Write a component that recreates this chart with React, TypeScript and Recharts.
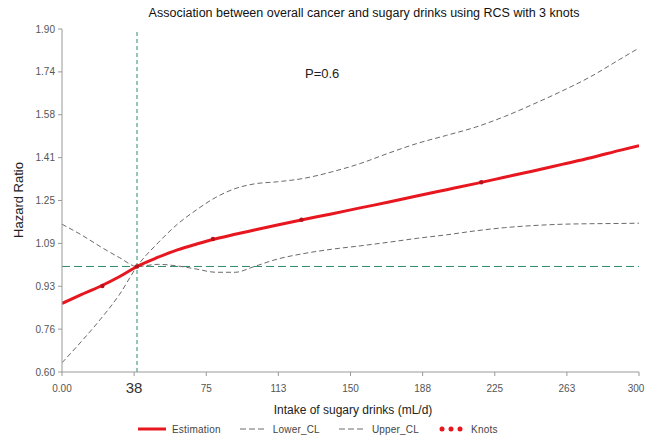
import React from 'react'
import { ComposedChart, Line, Scatter, XAxis, YAxis, ReferenceLine } from 'recharts'

const xValues = [0, 10, 20, 30, 39, 50, 60, 70, 80, 90, 100, 112, 125, 140, 155, 170, 185, 200, 215, 230, 245, 260, 275, 290, 300]
const estimation = [0.86, 0.893, 0.925, 0.962, 1.0, 1.035, 1.063, 1.085, 1.105, 1.122, 1.138, 1.157, 1.177, 1.199, 1.222, 1.244, 1.268, 1.291, 1.314, 1.338, 1.362, 1.387, 1.412, 1.44, 1.458]
const lowerCL = [1.16, 1.12, 1.075, 1.033, 1.0, 1.008, 1.002, 0.99, 0.978, 0.978, 1.0, 1.028, 1.048, 1.065, 1.078, 1.092, 1.107, 1.12, 1.135, 1.147, 1.155, 1.16, 1.162, 1.163, 1.164]
const upperCL = [0.635, 0.715, 0.8, 0.895, 1.0, 1.09, 1.16, 1.215, 1.262, 1.295, 1.313, 1.321, 1.333, 1.358, 1.39, 1.43, 1.467, 1.497, 1.528, 1.568, 1.615, 1.665, 1.72, 1.785, 1.828]

const knotX = [21, 39, 78.5, 124.5, 218]
const knotY = [0.926, 1.0, 1.104, 1.177, 1.319]

const xTicks = [0, 37.5, 75, 112.5, 150, 187.5, 225, 262.5, 300]
const xTickLabels = ['0.00', '38', '75', '113', '150', '188', '225', '263', '300']
const yTicks = [0.6, 0.7625, 0.925, 1.0875, 1.25, 1.4125, 1.575, 1.7375, 1.9]
const yTickLabels = ['0.60', '0.76', '0.93', '1.09', '1.25', '1.41', '1.58', '1.74', '1.90']

const refX = 39
const refY = 1.0

const chartData = xValues.map((x, i) => ({ x, est: estimation[i], lower: lowerCL[i], upper: upperCL[i] }))
const knotData = knotX.map((x, i) => ({ x, est: knotY[i] }))

const FONT = '"Liberation Sans", Arial, sans-serif'
const RED = '#e8161e'
const GREY = '#6a6a6a'
const GREEN = '#2f8a6c'

const XTick = (props: any) => {
  const { x, y, payload } = props
  const idx = xTicks.indexOf(payload.value)
  const big = idx === 1
  return (
    <text x={x} y={y} dy={big ? 13 : 12} textAnchor="middle" fontSize={big ? 15 : 10} fill={big ? '#333' : '#555'} fontFamily={FONT}>
      {xTickLabels[idx]}
    </text>
  )
}

const YTick = (props: any) => {
  const { x, y, payload } = props
  const idx = yTicks.indexOf(payload.value)
  return (
    <text x={x} y={y} dy={3.5} textAnchor="end" fontSize={10} fill="#555" fontFamily={FONT}>
      {yTickLabels[idx]}
    </text>
  )
}

const KnotDot = (props: any) => <circle cx={props.cx} cy={props.cy} r={2.2} fill="#b8121a" />

const legendText: React.CSSProperties = { fontSize: 10, color: '#444', marginLeft: 6, letterSpacing: 0.2 }

const App: React.FC = () => {
  return (
    <div style={{ position: 'absolute', left: 0, top: 0, width: 648, height: 439, background: '#fff', fontFamily: FONT }}>
      <div style={{ position: 'absolute', left: 0, width: 728, top: 6, textAlign: 'center', fontSize: 12.5, color: '#111' }}>
        Association between overall cancer and sugary drinks using RCS with 3 knots
      </div>
      <ComposedChart width={648} height={439} margin={{ top: 29, right: 9, left: 12, bottom: 37 }}>
        <XAxis
          type="number"
          dataKey="x"
          domain={[0, 300]}
          ticks={xTicks}
          tick={<XTick />}
          tickSize={4}
          tickMargin={4}
          height={30}
          stroke="#999"
          allowDataOverflow
        />
        <YAxis
          type="number"
          domain={[0.6, 1.9]}
          ticks={yTicks}
          tick={<YTick />}
          tickSize={4}
          tickMargin={3}
          width={50}
          stroke="#999"
          allowDataOverflow
        />
        <ReferenceLine x={refX} stroke={GREEN} strokeDasharray="4 3" strokeWidth={1} />
        <ReferenceLine y={refY} stroke={GREEN} strokeDasharray="8 4" strokeWidth={1} />
        <Line data={chartData} type="monotone" dataKey="upper" stroke={GREY} strokeDasharray="5 3" strokeWidth={1} dot={false} isAnimationActive={false} />
        <Line data={chartData} type="monotone" dataKey="lower" stroke={GREY} strokeDasharray="5 3" strokeWidth={1} dot={false} isAnimationActive={false} />
        <Line data={chartData} type="monotone" dataKey="est" stroke={RED} strokeWidth={3} dot={false} isAnimationActive={false} />
        <Scatter data={knotData} dataKey="est" shape={<KnotDot />} isAnimationActive={false} />
      </ComposedChart>
      <div style={{ position: 'absolute', left: 305, top: 66, fontSize: 13, color: '#222' }}>P=0.6</div>
      <div
        style={{
          position: 'absolute',
          left: 18,
          top: 200,
          transform: 'translate(-50%, -50%) rotate(-90deg)',
          fontSize: 13,
          color: '#222',
          whiteSpace: 'nowrap',
        }}
      >
        Hazard Ratio
      </div>
      <div style={{ position: 'absolute', left: 0, width: 706, top: 403, textAlign: 'center', fontSize: 12, color: '#222' }}>
        Intake of sugary drinks (mL/d)
      </div>
      <div style={{ position: 'absolute', left: 138, top: 422, display: 'flex', alignItems: 'center', height: 14 }}>
        <svg width={28} height={6}>
          <line x1={0} y1={3} x2={28} y2={3} stroke={RED} strokeWidth={3} />
        </svg>
        <span style={legendText}>Estimation</span>
        <svg width={27} height={6} style={{ marginLeft: 19 }}>
          <line x1={0} y1={3} x2={27} y2={3} stroke={GREY} strokeWidth={1} strokeDasharray="6 3" />
        </svg>
        <span style={legendText}>Lower_CL</span>
        <svg width={27} height={6} style={{ marginLeft: 19 }}>
          <line x1={0} y1={3} x2={27} y2={3} stroke={GREY} strokeWidth={1} strokeDasharray="6 3" />
        </svg>
        <span style={legendText}>Upper_CL</span>
        <svg width={26} height={8} style={{ marginLeft: 20 }}>
          <circle cx={3} cy={4} r={2.5} fill={RED} />
          <circle cx={12} cy={4} r={2.5} fill={RED} />
          <circle cx={21} cy={4} r={2.5} fill={RED} />
        </svg>
        <span style={legendText}>Knots</span>
      </div>
    </div>
  )
}

export default App
